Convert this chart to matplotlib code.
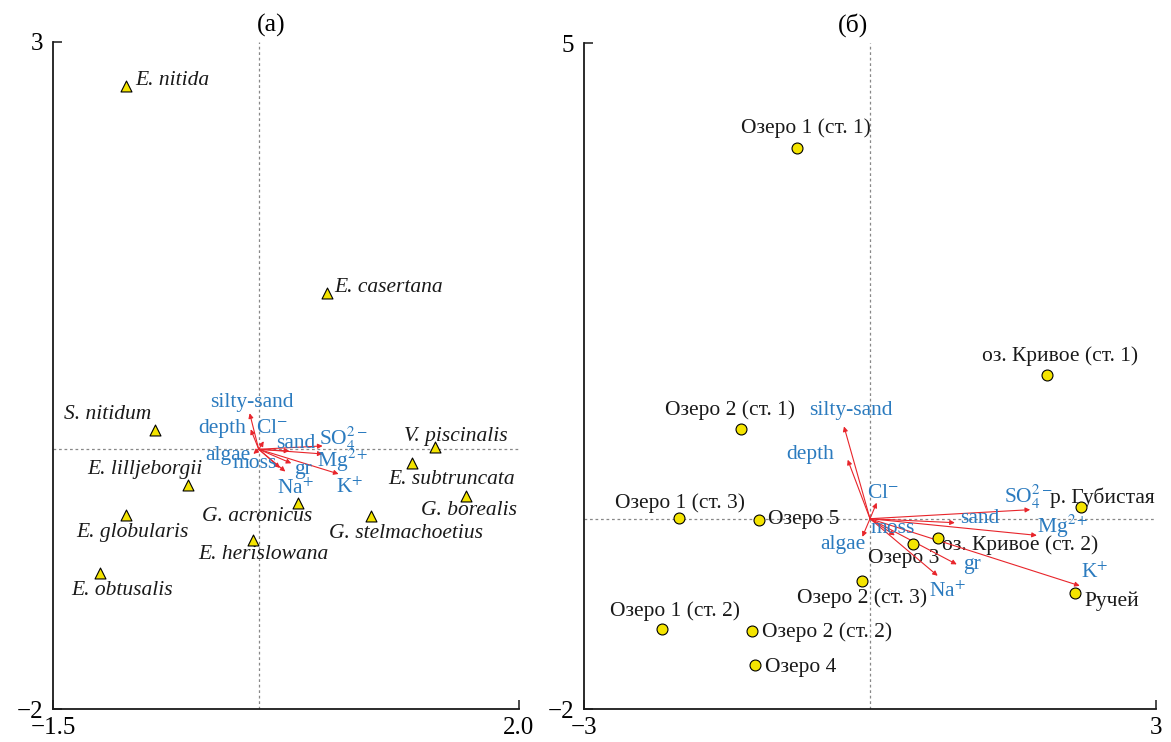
import matplotlib
matplotlib.use("Agg")
import matplotlib.pyplot as plt

plt.rcParams['font.family'] = ['Liberation Serif', 'DejaVu Serif']
plt.rcParams['mathtext.fontset'] = 'stix'

# ---- panel (a): species scores ----
species = ['E. nitida', 'E. casertana', 'S. nitidum', 'V. piscinalis', 'E. subtruncata',
           'E. lilljeborgii', 'G. borealis', 'E. globularis', 'G. acronicus',
           'G. stelmachoetius', 'E. herislowana', 'E. obtusalis']
sp_x = [-0.952, 0.558, -0.733, 1.370, 1.198, -0.485, 1.604, -0.952, 0.342, 0.891, 0.002, -1.145]
sp_y = [2.670, 1.120, 0.090, -0.036, -0.153, -0.323, -0.403, -0.543, -0.453, -0.553, -0.733, -0.983]

# environmental variables (same names on both panels)
env_names = ['silty-sand', 'depth', r'Cl$^{-}$', 'sand', r'SO$_4^{2-}$', 'algae', 'moss',
             r'Mg$^{2+}$', 'gr', r'Na$^{+}$', r'K$^{+}$']
env_a_x = [-0.068, -0.060, 0.038, 0.230, 0.480, -0.040, 0.160, 0.480, 0.245, 0.200, 0.600]
env_a_y = [0.270, 0.150, 0.060, -0.013, 0.025, -0.035, -0.140, -0.035, -0.105, -0.167, -0.185]

# ---- panel (б): site scores ----
sites = ['Озеро 1 (ст. 1)', 'оз. Кривое (ст. 1)', 'Озеро 2 (ст. 1)', 'р. Губистая',
         'Озеро 1 (ст. 3)', 'Озеро 5', 'оз. Кривое (ст. 2)', 'Озеро 3', 'Озеро 2 (ст. 3)',
         'Ручей', 'Озеро 1 (ст. 2)', 'Озеро 2 (ст. 2)', 'Озеро 4']
st_x = [-0.766, 1.857, -1.354, 2.214, -2.000, -1.165, 0.714, 0.450, -0.084, 2.150, -2.180, -1.240, -1.207]
st_y = [3.900, 1.510, 0.940, 0.120, 0.010, -0.010, -0.200, -0.270, -0.650, -0.780, -1.160, -1.180, -1.540]

env_b_x = [-0.273, -0.234, 0.070, 0.890, 1.680, -0.080, 0.260, 1.750, 0.910, 0.710, 2.200]
env_b_y = [0.970, 0.620, 0.168, -0.042, 0.095, -0.190, -0.175, -0.175, -0.480, -0.600, -0.705]

# ---- layout (label placement) ----
origin_a = (0.045, -0.053)
origin_b = (0.0, 0.0)
sp_off = [(46, 6), (62, 5), (-47, 16), (21, 11), (39, -17), (-43, 16), (3, -15),
          (6, -18), (-41, -14), (35, -18), (10, -15), (22, -17)]
st_off = [(9, 20), (13, 19), (-11, 19), (21, 10), (1, 15), (45, 0), (82, -7),
          (-9, -14), (0, -18), (37, -8), (13, 18), (75, -1), (46, -2)]
env_a_lab = [(-0.05, 0.347), (-0.276, 0.152), (0.10, 0.152), (0.28, 0.047), (0.633, 0.075),
             (-0.23, -0.043), (-0.028, -0.11), (0.633, -0.085), (0.333, -0.148),
             (0.28, -0.30), (0.686, -0.29)]
env_b_lab = [(-0.20, 1.14), (-0.63, 0.67), (0.136, 0.27), (1.154, 0.007), (1.66, 0.228),
             (-0.283, -0.266), (0.24, -0.098), (2.025, -0.085), (1.07, -0.486),
             (0.81, -0.77), (2.36, -0.57)]

BLUE = '#2b7bbf'
RED = '#e8252b'
YELLOW = '#f4e400'
FS = 15.5

fig = plt.figure(figsize=(11.71, 7.42), dpi=100)
ax1 = fig.add_axes([53 / 1171, 33 / 742, 466 / 1171, 667 / 742])
ax2 = fig.add_axes([584 / 1171, 33 / 742, 572 / 1171, 666 / 742])


def frame(ax, xlim, ylim, xt, yt, origin):
    ax.set_xlim(*xlim)
    ax.set_ylim(*ylim)
    for s in ['top', 'right']:
        ax.spines[s].set_visible(False)
    for s in ['left', 'bottom']:
        ax.spines[s].set_linewidth(1.3)
        ax.spines[s].set_color('#1a1a1a')
    ax.set_xticks(xlim)
    ax.set_xticklabels(xt)
    ax.set_yticks(ylim)
    ax.set_yticklabels(yt)
    ax.tick_params(direction='in', length=6.5, width=1.1, labelsize=18, color='#1a1a1a')
    ax.tick_params(axis='x', pad=6)
    ax.tick_params(axis='y', pad=7)
    ax.axvline(origin[0], color='#888888', lw=0.9, ls=(0, (2.2, 2.2)), zorder=0)
    ax.axhline(origin[1], color='#888888', lw=0.9, ls=(0, (2.2, 2.2)), zorder=0)


def arrows(ax, origin, ex, ey, lab_pos):
    for name, dx, dy, (lx, ly) in zip(env_names, ex, ey, lab_pos):
        ax.annotate('', xy=(origin[0] + dx, origin[1] + dy), xytext=origin,
                    arrowprops=dict(arrowstyle='-|>', color=RED, lw=0.8,
                                    mutation_scale=7, shrinkA=0, shrinkB=0), zorder=3)
        ax.text(origin[0] + lx, origin[1] + ly, name, color=BLUE, fontsize=FS,
                ha='center', va='center', zorder=4)


# panel (a)
frame(ax1, (-1.5, 2.0), (-2, 3), ['\u22121.5', '2.0'], ['\u22122', '3'], origin_a)
ax1.scatter(sp_x, sp_y, marker='^', s=62, c=YELLOW, edgecolors='black', linewidths=0.8, zorder=5)
for name, x, y, off in zip(species, sp_x, sp_y, sp_off):
    ax1.annotate(name, (x, y), xytext=off, textcoords='offset pixels', ha='center', va='center',
                 fontsize=FS, style='italic', color='#1a1a1a')
arrows(ax1, origin_a, env_a_x, env_a_y, env_a_lab)

# panel (б)
frame(ax2, (-3, 3), (-2, 5), ['\u22123', '3'], ['\u22122', '5'], origin_b)
ax2.scatter(st_x, st_y, marker='o', s=62, c=YELLOW, edgecolors='black', linewidths=0.8, zorder=5)
for name, x, y, off in zip(sites, st_x, st_y, st_off):
    ax2.annotate(name, (x, y), xytext=off, textcoords='offset pixels', ha='center', va='center',
                 fontsize=FS, color='#1a1a1a')
arrows(ax2, origin_b, env_b_x, env_b_y, env_b_lab)

fig.text(271 / 1171, 1 - 25 / 742, '(a)', ha='center', va='center', fontsize=18.5)
fig.text(853 / 1171, 1 - 25 / 742, '(б)', ha='center', va='center', fontsize=18.5)

fig.savefig('out.png', dpi=100)
